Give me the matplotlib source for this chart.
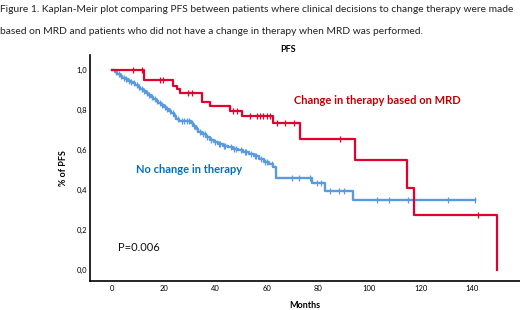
import numpy as np
import matplotlib
matplotlib.use('Agg')
import matplotlib.pyplot as plt

plt.rcParams['font.family'] = ['Lato', 'DejaVu Sans']

# 数据
# 改变治疗组 (Change in therapy based on MRD)
red_t = [0, 12.4, 23.8, 25.2, 26.4, 34.9, 38.1, 45.9, 50.4, 62.4, 73.0, 94.2, 114.5, 117.5, 149.4]
red_s = [1.0, 0.95, 0.92, 0.905, 0.885, 0.84, 0.82, 0.795, 0.77, 0.735, 0.655, 0.55, 0.41, 0.275, 0.0]
red_cens = [8.3, 11.5, 18.7, 19.6, 29.6, 31.1, 47.0, 48.6, 53.7, 56.3, 57.6, 58.8, 60.3, 61.5,
            64.0, 67.3, 70.5, 88.4, 142.2]

# 未改变治疗组 (No change in therapy)
blue_t = [0, 1, 2, 3, 4, 5, 6, 7, 8, 9, 10, 11, 12, 13, 14, 15, 16, 17, 18, 19, 20, 21, 22, 23,
          24, 25, 26, 30.5, 31.5, 32.5, 33.5, 35, 36.5, 38, 39.5, 41, 43, 45, 47, 49, 51, 53,
          55, 57, 59, 61, 62.5, 63.8, 77.7, 82.8, 93.6]
blue_s = [1.0, 0.99, 0.98, 0.97, 0.96, 0.955, 0.945, 0.94, 0.935, 0.925, 0.915, 0.905, 0.895,
          0.885, 0.872, 0.862, 0.852, 0.845, 0.835, 0.825, 0.815, 0.805, 0.795, 0.785, 0.77,
          0.755, 0.745, 0.735, 0.72, 0.705, 0.69, 0.678, 0.665, 0.652, 0.64, 0.632, 0.622,
          0.615, 0.607, 0.598, 0.59, 0.58, 0.568, 0.555, 0.54, 0.53, 0.515, 0.46, 0.435,
          0.397, 0.348]
blue_cens = [1.5, 2.5, 3.5, 4.5, 5.5, 6.5, 7.5, 8.5, 9.5, 10.5, 11.5, 12.5, 13.5, 14.5, 15.5,
             16.5, 17.5, 18.5, 19.5, 20.5, 21.5, 22.5, 23.5, 24.5, 25.5, 27, 28, 29, 30, 31, 32,
             33, 34, 35.5, 36, 37, 38.5, 40, 41.5, 42, 43.5, 44, 46, 47.5, 48, 50, 51.5, 52, 54,
             55.5, 56, 58, 59.5, 60, 62, 69.9, 72.5, 77, 79.5, 81, 84.8, 88, 90, 103, 107.5,
             115, 130.6, 141.2]

x_ticks = [0, 20, 40, 60, 80, 100, 120, 140]
y_ticks = [0.0, 0.2, 0.4, 0.6, 0.8, 1.0]

caption = ["Figure 1. Kaplan-Meir plot comparing PFS between patients where clinical decisions to change therapy were made",
           "based on MRD and patients who did not have a change in therapy when MRD was performed."]

red_line = '#e2002c'
blue_line = '#5a9be0'


def surv_at(t_list, s_list, times):
    idx = np.searchsorted(np.asarray(t_list), np.asarray(times), side='right') - 1
    return np.asarray(s_list)[idx]


fig = plt.figure(figsize=(5.2, 3.1), dpi=100)
fig.text(0.0, 1 - 10 / 310, caption[0], fontsize=7.4, color='#222222', va='center', ha='left')
fig.text(0.0, 1 - 32 / 310, caption[1], fontsize=7.4, color='#222222', va='center', ha='left')
fig.text(288 / 520, 1 - 49 / 310, 'PFS', fontsize=6.5, fontweight='bold', ha='center', va='center')

ax = fig.add_axes([90 / 520, 1 - 281 / 310, 430 / 520, 226 / 310])

# 蓝色曲线
ax.step(blue_t + [141.2], blue_s + [blue_s[-1]], where='post', color=blue_line, lw=1.7)
ax.plot(blue_cens, surv_at(blue_t, blue_s, blue_cens), ls='none', marker='|', ms=4,
        mew=0.9, color=blue_line)

# 红色曲线
ax.step(red_t, red_s, where='post', color=red_line, lw=1.6)
ax.plot(red_cens, surv_at(red_t, red_s, red_cens), ls='none', marker='|', ms=4,
        mew=0.9, color=red_line)

ax.text(103, 0.847, 'Change in therapy based on MRD', color='#c00000', fontsize=8,
        fontweight='bold', ha='center', va='center')
ax.text(30, 0.502, 'No change in therapy', color='#0070c0', fontsize=8,
        fontweight='bold', ha='center', va='center')
ax.text(2.3, 0.113, 'P=0.006', color='#111111', fontsize=8, ha='left', va='center')

ax.set_xlim(-8.6, 158.5)
ax.set_ylim(-0.054, 1.074)
ax.set_xticks(x_ticks)
ax.set_xticklabels([str(v) for v in x_ticks])
ax.set_yticks(y_ticks)
ax.set_yticklabels([f'{v:.1f}'.replace('.', ',') for v in y_ticks])
ax.tick_params(axis='x', length=0, labelsize=5.5, pad=3)
ax.tick_params(axis='y', length=0, labelsize=5.5, pad=2)
ax.set_xlabel('Months', fontsize=6.5, fontweight='bold', labelpad=6)
ax.set_ylabel('% of PFS', fontsize=6.5, fontweight='bold', labelpad=6)
for side in ['top', 'right']:
    ax.spines[side].set_visible(False)
for side in ['left', 'bottom']:
    ax.spines[side].set_linewidth(1.2)

fig.savefig('out.png', dpi=100)
